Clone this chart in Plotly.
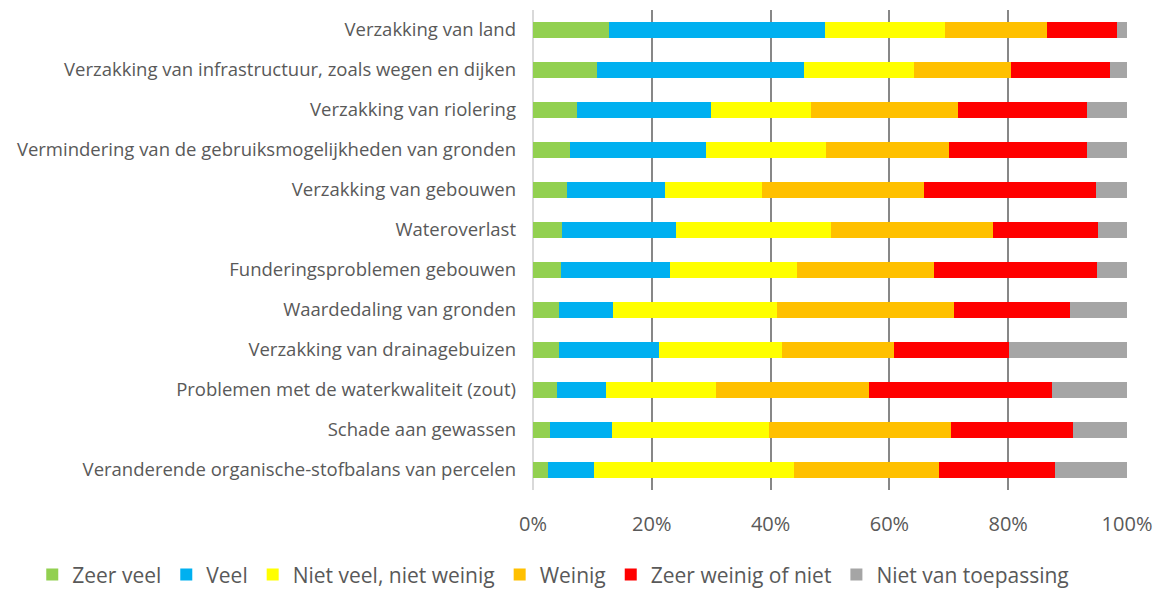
import plotly.graph_objects as go

categories = [
    "Verzakking van land",
    "Verzakking van infrastructuur, zoals wegen en dijken",
    "Verzakking van riolering",
    "Vermindering van de gebruiksmogelijkheden van gronden",
    "Verzakking van gebouwen",
    "Wateroverlast",
    "Funderingsproblemen gebouwen",
    "Waardedaling van gronden",
    "Verzakking van drainagebuizen",
    "Problemen met de waterkwaliteit (zout)",
    "Schade aan gewassen",
    "Veranderende organische-stofbalans van percelen",
]

zeer_veel = [12.8, 10.8, 7.4, 6.3, 5.8, 4.8, 4.7, 4.3, 4.3, 4.1, 2.8, 2.5]
veel = [36.4, 34.8, 22.6, 22.9, 16.5, 19.3, 18.4, 9.2, 16.9, 8.2, 10.5, 7.8]
niet_veel = [20.2, 18.6, 16.8, 20.2, 16.3, 26.1, 21.4, 27.5, 20.8, 18.5, 26.5, 33.7]
weinig = [17.1, 16.3, 24.7, 20.6, 27.3, 27.3, 23.0, 29.8, 18.8, 25.7, 30.5, 24.4]
zeer_weinig = [11.8, 16.6, 21.8, 23.3, 28.9, 17.7, 27.4, 19.6, 19.4, 30.9, 20.6, 19.5]
niet_toepassing = [1.7, 2.9, 6.7, 6.7, 5.2, 4.8, 5.1, 9.6, 19.8, 12.6, 9.1, 12.1]

series_names = ["Zeer veel", "Veel", "Niet veel, niet weinig", "Weinig",
                "Zeer weinig of niet", "Niet van toepassing"]
series_values = [zeer_veel, veel, niet_veel, weinig, zeer_weinig, niet_toepassing]
colors = ["#92D050", "#00B0F0", "#FFFF00", "#FFC000", "#FF0000", "#A5A5A5"]

tick_vals = [0, 20, 40, 60, 80, 100]
tick_text = ["0%", "20%", "40%", "60%", "80%", "100%"]

font_family = "Open Sans"

fig = go.Figure()
for name, vals, col in zip(series_names, series_values, colors):
    fig.add_trace(go.Bar(
        y=categories, x=vals, name=name, orientation="h",
        marker=dict(color=col, line=dict(width=0)),
        hoverinfo="x+y+name",
    ))

fig.update_layout(
    barmode="stack",
    bargap=0.62,
    width=1154, height=582,
    margin=dict(l=525, r=35, t=2, b=100, autoexpand=False),
    paper_bgcolor="white", plot_bgcolor="white",
    font=dict(family=font_family, size=18, color="#595959"),
    legend=dict(orientation="h", x=-0.843, xanchor="left", xref="paper",
                y=-0.177, yanchor="middle", font=dict(size=21), traceorder="normal",
                itemwidth=30),
    xaxis=dict(range=[0, 100], tickvals=tick_vals, ticktext=tick_text,
               showgrid=True, gridcolor="#878787", gridwidth=2,
               zeroline=True, zerolinecolor="#D9D9D9", zerolinewidth=2,
               showline=False, ticks="", ticklabelstandoff=20,
               tickfont=dict(size=20)),
    yaxis=dict(autorange="reversed", showgrid=False, ticks="",
               ticklabelstandoff=16, tickfont=dict(size=18.5)),
)

fig.write_html("out.html")
